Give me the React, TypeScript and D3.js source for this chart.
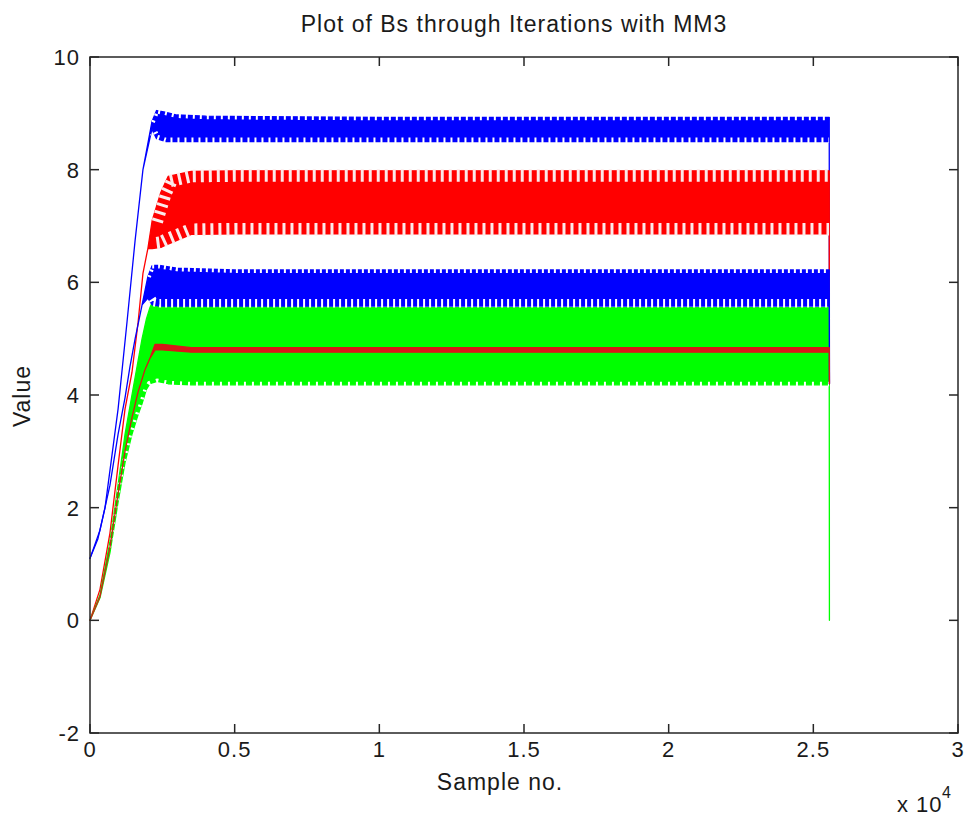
import React from "react";
import * as d3 from "d3";

const W = 968;
const H = 819;
const M = { left: 90, right: 958, top: 57, bottom: 733 };

const titleText = "Plot of Bs through Iterations with MM3";
const xLabelText = "Sample no.";
const yLabelText = "Value";
const xTicks = [0, 5000, 10000, 15000, 20000, 25000, 30000];
const xTickLabels = ["0", "0.5", "1", "1.5", "2", "2.5", "3"];
const yTicks = [-2, 0, 2, 4, 6, 8, 10];
const yTickLabels = ["-2", "0", "2", "4", "6", "8", "10"];

// Envelope of each (densely oscillating) series: sample no., lower and upper value
const blue1Samples = [0, 275, 520, 970, 1280, 1560, 1830, 2140, 2300, 2600, 3000, 4000, 6000, 10000, 15000, 20000, 25550, 25556];
const blue1Lo = [1.1, 1.45, 2.0, 3.75, 5.3, 6.75, 8.0, 8.72, 8.55, 8.5, 8.5, 8.5, 8.5, 8.5, 8.5, 8.5, 8.5, 4.2];
const blue1Hi = [1.1, 1.45, 2.0, 3.75, 5.3, 6.75, 8.0, 8.85, 9.05, 9.02, 8.97, 8.95, 8.94, 8.93, 8.93, 8.93, 8.93, 4.2];

const red1Samples = [0, 345, 690, 970, 1210, 1450, 1660, 1830, 2000, 2150, 2450, 2700, 3500, 5000, 10000, 20000, 25550, 25556];
const red1Lo = [0, 0.55, 1.55, 2.75, 3.75, 4.4, 5.28, 6.16, 6.6, 6.6, 6.62, 6.68, 6.85, 6.86, 6.86, 6.86, 6.86, 4.2];
const red1Hi = [0, 0.55, 1.55, 2.75, 3.75, 4.4, 5.28, 6.16, 6.6, 7.1, 7.6, 7.88, 7.97, 7.98, 7.98, 7.98, 7.98, 4.2];

const greenSamples = [0, 345, 690, 970, 1210, 1450, 1660, 1800, 1950, 2070, 2320, 2700, 3500, 5000, 10000, 20000, 25550, 25556];
const greenLo = [0, 0.4, 1.2, 2.1, 2.8, 3.3, 3.65, 3.85, 4.1, 4.2, 4.24, 4.2, 4.18, 4.18, 4.18, 4.18, 4.18, 0];
const greenHi = [0, 0.45, 1.4, 2.4, 3.3, 4.0, 4.6, 5.0, 5.35, 5.55, 5.85, 5.75, 5.62, 5.58, 5.55, 5.55, 5.55, 0];

const blue2Samples = [0, 345, 690, 970, 1210, 1380, 1560, 1800, 2000, 2150, 2400, 3000, 5000, 10000, 20000, 25550, 25556];
const blue2Lo = [1.1, 1.6, 2.4, 3.3, 3.95, 4.5, 5.0, 5.6, 5.72, 5.6, 5.58, 5.58, 5.58, 5.58, 5.58, 5.58, 4.2];
const blue2Hi = [1.1, 1.6, 2.4, 3.3, 3.95, 4.5, 5.0, 5.6, 6.1, 6.3, 6.3, 6.25, 6.22, 6.22, 6.22, 6.22, 4.2];

const red2Samples = [0, 345, 690, 970, 1210, 1450, 1660, 1900, 2070, 2250, 2500, 3500, 5000, 10000, 20000, 25550, 25556];
const red2Lo = [0, 0.42, 1.3, 2.25, 3.0, 3.6, 4.05, 4.45, 4.65, 4.8, 4.8, 4.76, 4.76, 4.76, 4.76, 4.76, 4.2];
const red2Hi = [0, 0.42, 1.3, 2.25, 3.0, 3.6, 4.05, 4.45, 4.65, 4.9, 4.9, 4.84, 4.84, 4.84, 4.84, 4.84, 4.2];

type Band = {
  samples: number[];
  lo: number[];
  hi: number[];
  color: string;
  edge: string;
  topDepth: number;
  botDepth: number;
  dash: string;
};

const bands: Band[] = [
  { samples: blue1Samples, lo: blue1Lo, hi: blue1Hi, color: "#0000ff", edge: "#ffffff", topDepth: 3, botDepth: 4, dash: "2 5" },
  { samples: red1Samples, lo: red1Lo, hi: red1Hi, color: "#ff0000", edge: "#fbeaea", topDepth: 11, botDepth: 11, dash: "3 5" },
  { samples: greenSamples, lo: greenLo, hi: greenHi, color: "#00ff00", edge: "#ffffff", topDepth: 0, botDepth: 3, dash: "2 6" },
  { samples: blue2Samples, lo: blue2Lo, hi: blue2Hi, color: "#0000ff", edge: "#ffffff", topDepth: 3, botDepth: 7, dash: "2 4" },
  { samples: red2Samples, lo: red2Lo, hi: red2Hi, color: "#d81818", edge: "#ffffff", topDepth: 0, botDepth: 0, dash: "3 4" },
];

const FONT = "'Liberation Sans', Arial, sans-serif";

export default function App() {
  const x = d3.scaleLinear().domain([0, 30000]).range([M.left, M.right]);
  const y = d3.scaleLinear().domain([-2, 10]).range([M.bottom, M.top]);
  const area = d3
    .area<[number, number, number]>()
    .x((d) => x(d[0]))
    .y0((d) => y(d[1]))
    .y1((d) => y(d[2]));
  // slightly expanded area, used to clip the oscillation "teeth"
  const clipArea = d3
    .area<[number, number, number]>()
    .x((d) => x(d[0]))
    .y0((d) => y(d[1]) + 1.5)
    .y1((d) => y(d[2]) - 1.5);
  const edgeLine = d3
    .line<[number, number]>()
    .x((d) => x(d[0]))
    .y((d) => y(d[1]));
  const tick = 9;
  const axisColor = "#262626";
  const fs = 22;
  const ls = 1;

  return (
    <svg width={W} height={H} style={{ position: "absolute", left: 0, top: 0, background: "#fff" }}>
      <rect x={0} y={0} width={W} height={H} fill="#fff" />
      <defs>
        {bands.map((b, i) => {
          const pts = b.samples.map((s, k) => [s, b.lo[k], b.hi[k]] as [number, number, number]);
          return (
            <clipPath id={"bandclip" + i} key={"c" + i}>
              <path d={clipArea(pts) || ""} />
            </clipPath>
          );
        })}
      </defs>
      {bands.map((b, i) => {
        const pts = b.samples.map((s, k) => [s, b.lo[k], b.hi[k]] as [number, number, number]);
        // plateau part (where the oscillation band is open), without the final drop
        const open = pts.filter((p, k) => p[2] - p[1] > 0.05 && k < pts.length - 1);
        const topPts = open.map((p) => [p[0], p[2]] as [number, number]);
        const botPts = open.map((p) => [p[0], p[1]] as [number, number]);
        return (
          <g key={i}>
            <path d={area(pts) || ""} fill={b.color} stroke={b.color} strokeWidth={1.3} strokeLinejoin="round" />
            <g clipPath={`url(#bandclip${i})`}>
              {b.topDepth > 0 && (
                <path
                  d={edgeLine(topPts) || ""}
                  fill="none"
                  stroke={b.edge}
                  strokeWidth={b.topDepth * 2}
                  strokeDasharray={b.dash}
                />
              )}
              {b.botDepth > 0 && (
                <path
                  d={edgeLine(botPts) || ""}
                  fill="none"
                  stroke={b.edge}
                  strokeWidth={b.botDepth * 2}
                  strokeDasharray={b.dash}
                  strokeDashoffset={3}
                />
              )}
            </g>
          </g>
        );
      })}
      {/* box */}
      <rect
        x={M.left}
        y={M.top}
        width={M.right - M.left}
        height={M.bottom - M.top}
        fill="none"
        stroke={axisColor}
        strokeWidth={1.5}
      />
      {xTicks.map((t, i) => (
        <g key={"xt" + i}>
          <line x1={x(t)} x2={x(t)} y1={M.bottom} y2={M.bottom - tick} stroke={axisColor} strokeWidth={1.5} />
          <line x1={x(t)} x2={x(t)} y1={M.top} y2={M.top + tick} stroke={axisColor} strokeWidth={1.5} />
          <text x={x(t)} y={757} textAnchor="middle" fontFamily={FONT} fontSize={fs} letterSpacing={ls} fill="#1a1a1a">
            {xTickLabels[i]}
          </text>
        </g>
      ))}
      {yTicks.map((t, i) => (
        <g key={"yt" + i}>
          <line x1={M.left} x2={M.left + tick} y1={y(t)} y2={y(t)} stroke={axisColor} strokeWidth={1.5} />
          <line x1={M.right} x2={M.right - tick} y1={y(t)} y2={y(t)} stroke={axisColor} strokeWidth={1.5} />
          <text x={80} y={y(t) + 8} textAnchor="end" fontFamily={FONT} fontSize={fs} letterSpacing={ls} fill="#1a1a1a">
            {yTickLabels[i]}
          </text>
        </g>
      ))}
      <text x={514} y={32} textAnchor="middle" fontFamily={FONT} fontSize={23} letterSpacing={ls} fill="#1a1a1a">
        {titleText}
      </text>
      <text x={500} y={790} textAnchor="middle" fontFamily={FONT} fontSize={23} letterSpacing={ls} fill="#1a1a1a">
        {xLabelText}
      </text>
      <text
        transform="translate(30,396) rotate(-90)"
        textAnchor="middle"
        fontFamily={FONT}
        fontSize={23}
        letterSpacing={ls}
        fill="#1a1a1a"
      >
        {yLabelText}
      </text>
      <text x={897} y={812} fontFamily={FONT} fontSize={fs} letterSpacing={ls} fill="#1a1a1a">
        x 10
      </text>
      <text x={942} y={798} fontFamily={FONT} fontSize={16} fill="#1a1a1a">
        4
      </text>
    </svg>
  );
}
